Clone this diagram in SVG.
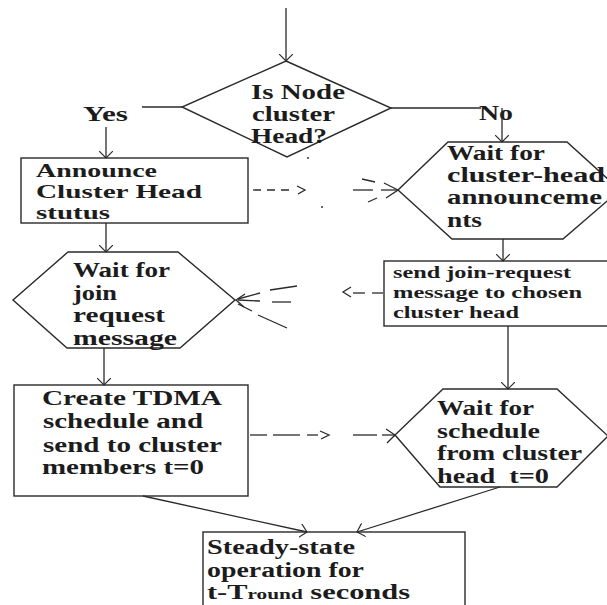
<svg xmlns="http://www.w3.org/2000/svg" width="607" height="605" viewBox="0 0 607 605">
<style>
.n{fill:#fff;stroke:#2a2a2a;stroke-width:1.4}
.t{font-family:"Liberation Serif","Times New Roman",serif;font-weight:bold;font-size:20px;fill:#1c1c1c}
.b{font-size:19px}
.s{font-size:17px}
.c{fill:none;stroke:#2a2a2a;stroke-width:1.3}
.d{stroke-dasharray:8 6}
.a{marker-end:url(#ah)}
</style>
<defs>
<marker id="ah" viewBox="0 0 8 14" refX="7" refY="7" markerWidth="8" markerHeight="14" markerUnits="userSpaceOnUse" orient="auto">
<path d="M0,0 L7,7 L0,14" fill="none" stroke="#2a2a2a" stroke-width="1.2"/>
</marker>
</defs>
<rect x="0" y="0" width="607" height="605" fill="#fff"/>

<g id="decision">
<polygon class="n" points="286,61 391,108 287,157 182,107"/>
<text class="t" x="251" y="99" textLength="94" lengthAdjust="spacingAndGlyphs">Is Node</text>
<text class="t" x="252" y="121" textLength="83" lengthAdjust="spacingAndGlyphs">cluster</text>
<text class="t" x="251" y="143" textLength="76" lengthAdjust="spacingAndGlyphs">Head?</text>
</g>

<g id="announce">
<rect class="n" x="21" y="158" width="227" height="65"/>
<text class="t b" x="36" y="177" textLength="121" lengthAdjust="spacingAndGlyphs">Announce</text>
<text class="t b" x="36" y="198" textLength="166" lengthAdjust="spacingAndGlyphs">Cluster Head</text>
<text class="t b" x="36" y="219" textLength="74" lengthAdjust="spacingAndGlyphs">stutus</text>
</g>

<g id="wait-announce">
<polygon class="n" points="448,142 567,142 620,190 563,239 452,239 398,190"/>
<text class="t" x="447" y="160" textLength="98" lengthAdjust="spacingAndGlyphs">Wait for</text>
<text class="t" x="447" y="182" textLength="158" lengthAdjust="spacingAndGlyphs">cluster-head</text>
<text class="t" x="447" y="204" textLength="155" lengthAdjust="spacingAndGlyphs">announceme</text>
<text class="t" x="447" y="227" textLength="35" lengthAdjust="spacingAndGlyphs">nts</text>
</g>

<g id="wait-join">
<polygon class="n" points="68,252 178,252 235,300 180,348 67,348 13,300"/>
<text class="t" x="73" y="277" textLength="97" lengthAdjust="spacingAndGlyphs">Wait for</text>
<text class="t" x="73" y="300" textLength="44" lengthAdjust="spacingAndGlyphs">join</text>
<text class="t" x="73" y="322" textLength="92" lengthAdjust="spacingAndGlyphs">request</text>
<text class="t" x="73" y="345" textLength="104" lengthAdjust="spacingAndGlyphs">message</text>
</g>

<g id="send-join">
<rect class="n" x="384" y="261" width="228" height="65"/>
<text class="t s" x="393" y="278" textLength="178" lengthAdjust="spacingAndGlyphs">send join-request</text>
<text class="t s" x="393" y="298" textLength="189" lengthAdjust="spacingAndGlyphs">message to chosen</text>
<text class="t s" x="393" y="318" textLength="126" lengthAdjust="spacingAndGlyphs">cluster head</text>
</g>

<g id="create-tdma">
<rect class="n" x="14" y="385" width="234" height="111"/>
<text class="t" x="42" y="405" textLength="180" lengthAdjust="spacingAndGlyphs">Create TDMA</text>
<text class="t" x="43" y="428" textLength="160" lengthAdjust="spacingAndGlyphs">schedule and</text>
<text class="t" x="43" y="452" textLength="179" lengthAdjust="spacingAndGlyphs">send to cluster</text>
<text class="t" x="42" y="474" textLength="162" lengthAdjust="spacingAndGlyphs">members t=0</text>
</g>

<g id="wait-schedule">
<polygon class="n" points="443,389 557,389 608,436 557,487 440,487 395,435"/>
<text class="t" x="437" y="415" textLength="97" lengthAdjust="spacingAndGlyphs">Wait for</text>
<text class="t" x="437" y="438" textLength="103" lengthAdjust="spacingAndGlyphs">schedule</text>
<text class="t" x="437" y="460" textLength="145" lengthAdjust="spacingAndGlyphs">from cluster</text>
<text class="t" x="437" y="483" textLength="112" lengthAdjust="spacingAndGlyphs" style="white-space:pre">head  t=0</text>
</g>

<g id="steady-state">
<rect class="n" x="203" y="532" width="262" height="80"/>
<text class="t" x="207" y="554" textLength="148" lengthAdjust="spacingAndGlyphs">Steady-state</text>
<text class="t" x="207" y="577" textLength="157" lengthAdjust="spacingAndGlyphs">operation for</text>
<text class="t" x="207" y="599" textLength="203" lengthAdjust="spacingAndGlyphs">t-T<tspan font-size="14">round</tspan> seconds</text>
</g>

<g id="labels">
<text class="t" x="83" y="121" textLength="45" lengthAdjust="spacingAndGlyphs">Yes</text>
<text class="t" x="479" y="120" textLength="34" lengthAdjust="spacingAndGlyphs">No</text>
</g>

<g id="connectors">
<line class="c a" x1="286" y1="8" x2="286" y2="61"/>
<line class="c" x1="182" y1="107" x2="142" y2="107"/>
<line class="c a" x1="106" y1="127" x2="106" y2="158"/>
<line class="c" x1="391" y1="108" x2="481" y2="108"/>
<line class="c a" x1="502" y1="108" x2="502" y2="142"/>
<line class="c a" x1="106" y1="223" x2="106" y2="252"/>
<line class="c a" x1="503" y1="239" x2="503" y2="261"/>
<line class="c a" x1="104" y1="348" x2="104" y2="385"/>
<line class="c a" x1="508" y1="326" x2="508" y2="389"/>
<line class="c a" x1="143" y1="496" x2="307" y2="532"/>
<line class="c a" x1="500" y1="487" x2="357" y2="532"/>

<line class="c d" x1="253" y1="190" x2="292" y2="190"/>
<path class="c" d="M297,186 L305,190 L298,194"/>
<circle cx="308" cy="158" r="1.1" fill="#444"/>
<circle cx="322" cy="207" r="1.1" fill="#444"/>
<line class="c" x1="353" y1="190" x2="373" y2="190"/>
<line class="c" x1="362" y1="179" x2="375" y2="182"/>
<line class="c" x1="368" y1="202" x2="377" y2="198"/>
<line class="c" x1="381" y1="190" x2="398" y2="190"/>
<path class="c" d="M384,183 L398,190 L386,198"/>

<line class="c" x1="383" y1="293" x2="372" y2="293"/>
<line class="c" x1="365" y1="293" x2="353" y2="293"/>
<path class="c" d="M351,287 L343,292 L351,297"/>
<line class="c" x1="297" y1="286" x2="270" y2="290"/>
<line class="c" x1="260" y1="293" x2="238" y2="299"/>
<line class="c" x1="291" y1="302" x2="272" y2="302"/>
<line class="c" x1="260" y1="301" x2="238" y2="300"/>
<line class="c" x1="287" y1="328" x2="258" y2="315"/>
<line class="c" x1="252" y1="311" x2="238" y2="304"/>
<path class="c" d="M245,294 L236,300 L244,307"/>

<line class="c" x1="250" y1="435" x2="267" y2="435"/>
<line class="c" x1="273" y1="435" x2="300" y2="435"/>
<line class="c" x1="307" y1="435" x2="318" y2="435"/>
<path class="c" d="M320,431 L329,435 L321,439"/>
<line class="c" x1="353" y1="435" x2="377" y2="435"/>
<line class="c" x1="382" y1="435" x2="395" y2="435"/>
<path class="c" d="M386,429 L395,435 L387,443"/>
</g>
</svg>
